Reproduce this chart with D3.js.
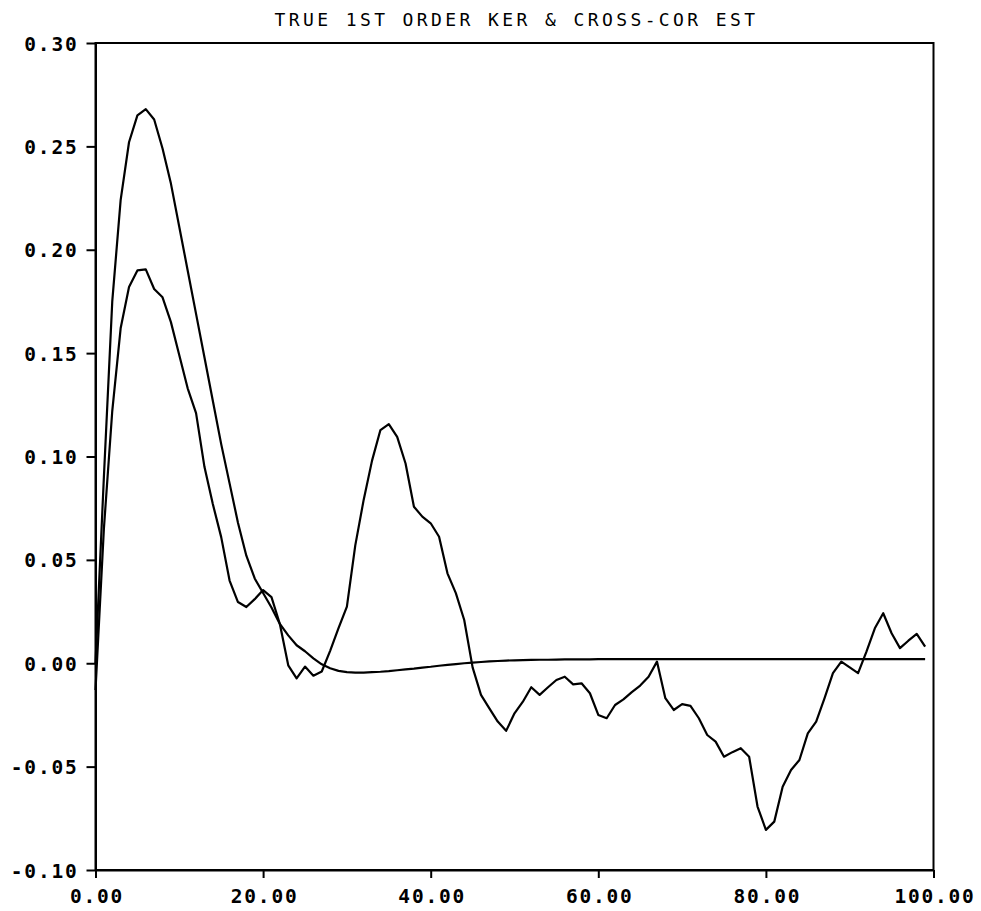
<!DOCTYPE html>
<html>
<head>
<meta charset="utf-8">
<script src="https://cdn.jsdelivr.net/npm/d3@7"></script>
<style>
  body { margin: 0; background: #fff; }
  svg { display: block; }
</style>
</head>
<body>
<script>
const WIDTH = 981;
const HEIGHT = 911;
const MARGIN = { left: 95.5, right: 47.5, top: 43, bottom: 41 };

const TITLE = "TRUE 1ST ORDER KER & CROSS-COR EST";

const X_TICKS = [0, 20, 40, 60, 80, 100];
const X_LABELS = ["0.00", "20.00", "40.00", "60.00", "80.00", "100.00"];
const Y_TICKS = [0.30, 0.25, 0.20, 0.15, 0.10, 0.05, 0.00, -0.05, -0.10];
const Y_LABELS = ["0.30", "0.25", "0.20", "0.15", "0.10", "0.05", "0.00", "-0.05", "-0.10"];

// lags 0..99
const LAGS = d3.range(100);

// true first order kernel
const KERNEL = [
  0, 0.09, 0.175, 0.224, 0.252, 0.265, 0.268, 0.263, 0.249, 0.232,
  0.211, 0.190, 0.169, 0.148, 0.127, 0.106, 0.087, 0.068, 0.052, 0.041,
  0.034, 0.027, 0.019, 0.0135, 0.0087, 0.0058, 0.0024, -0.0005, -0.0024, -0.0037,
  -0.0043, -0.0045, -0.0045, -0.0043, -0.0041, -0.0038, -0.0034, -0.0030, -0.0026, -0.0021,
  -0.0017, -0.0012, -0.0008, -0.0004, 0.0000, 0.0003, 0.0006, 0.0009, 0.0011, 0.0013,
  0.0014, 0.0015, 0.0016, 0.0017, 0.0017, 0.0018, 0.0019, 0.0019, 0.0019, 0.0019,
  0.0020, 0.0020, 0.0020, 0.0020, 0.0020, 0.0020, 0.0020, 0.0020, 0.0020, 0.0020,
  0.0020, 0.0020, 0.0020, 0.0020, 0.0020, 0.0020, 0.0020, 0.0020, 0.0020, 0.0020,
  0.0020, 0.0020, 0.0020, 0.0020, 0.0020, 0.0020, 0.0020, 0.0020, 0.0020, 0.0020,
  0.0020, 0.0020, 0.0020, 0.0020, 0.0020, 0.0020, 0.0020, 0.0020, 0.0020, 0.0020
];

// cross-correlation estimate
const CROSS_COR = [
  -0.013, 0.065, 0.122, 0.162, 0.182, 0.190, 0.1905, 0.181, 0.177, 0.165,
  0.149, 0.133, 0.121, 0.095, 0.077, 0.061, 0.040, 0.0296, 0.0272, 0.031,
  0.0354, 0.032, 0.019, -0.001, -0.0073, -0.0016, -0.006, -0.004, 0.006, 0.017,
  0.0274, 0.057, 0.079, 0.098, 0.1128, 0.1157, 0.1095, 0.0966, 0.0757, 0.0709,
  0.0677, 0.0612, 0.0435, 0.0339, 0.0209, -0.002, -0.0153, -0.0218, -0.0282, -0.0327,
  -0.0242, -0.0186, -0.0116, -0.0153, -0.0116, -0.0081, -0.0065, -0.0102, -0.0097, -0.0145,
  -0.025, -0.0266, -0.0202, -0.0175, -0.014, -0.0108, -0.0065, 0.0008, -0.0169, -0.0226,
  -0.0198, -0.0206, -0.0266, -0.0347, -0.0379, -0.0452, -0.043, -0.0411, -0.0452, -0.0693,
  -0.0806, -0.0766, -0.0597, -0.0516, -0.0468, -0.0339, -0.0282, -0.0169, -0.0048, 0.0008,
  -0.002, -0.0048, 0.0056, 0.0169, 0.0242, 0.0145, 0.0073, 0.0109, 0.0142, 0.008
];

const x = d3.scaleLinear([0, 100], [MARGIN.left, WIDTH - MARGIN.right]);
const y = d3.scaleLinear([-0.10, 0.30], [HEIGHT - MARGIN.bottom, MARGIN.top]);

const svg = d3.select('body').append('svg')
    .attr("width", WIDTH)
    .attr("height", HEIGHT)
    .attr("viewBox", [0, 0, WIDTH, HEIGHT]);

const FONT = "'DejaVu Sans Mono', monospace";

// title
svg.append("text")
    .attr("x", (x(0) + x(100)) / 2 + 2)
    .attr("y", 26)
    .attr("text-anchor", "middle")
    .style("font", `18px ${FONT}`)
    .style("letter-spacing", "3.4px")
    .attr("fill", "#000")
    .text(TITLE);

// frame
svg.append("rect")
    .attr("x", x(0))
    .attr("y", y(0.30))
    .attr("width", x(100) - x(0))
    .attr("height", y(-0.10) - y(0.30))
    .attr("fill", "none")
    .attr("stroke", "#000")
    .attr("stroke-width", 2);

// axes
const yAxis = d3.axisLeft(y)
    .tickValues(Y_TICKS)
    .tickFormat((d, i) => Y_LABELS[i])
    .tickSize(9)
    .tickSizeOuter(0)
    .tickPadding(8);

const xAxis = d3.axisBottom(x)
    .tickValues(X_TICKS)
    .tickFormat((d, i) => X_LABELS[i])
    .tickSize(8)
    .tickSizeOuter(0)
    .tickPadding(11);

svg.append("g")
    .attr("transform", `translate(${x(0)},0)`)
    .call(yAxis)
    .call(g => g.select(".domain").attr("stroke-width", 2))
    .call(g => g.selectAll(".tick line").attr("stroke-width", 2))
    .call(g => g.selectAll(".tick text")
      .attr("fill", "#000")
      .attr("dy", "0.36em")
      .style("font", `bold 19.5px ${FONT}`)
      .style("letter-spacing", "1.8px"));

svg.append("g")
    .attr("transform", `translate(0,${y(-0.10)})`)
    .call(xAxis)
    .call(g => g.select(".domain").attr("stroke-width", 2))
    .call(g => g.selectAll(".tick line").attr("stroke-width", 2))
    .call(g => g.selectAll(".tick text")
      .attr("fill", "#000")
      .attr("dx", "1px")
      .style("font", `bold 19.5px ${FONT}`)
      .style("letter-spacing", "1.8px"));

// curves
const line = d3.line()
    .x((d, i) => x(LAGS[i]))
    .y(d => y(d));

svg.append("g")
    .attr("fill", "none")
    .attr("stroke", "#000")
    .attr("stroke-width", 2.2)
    .attr("stroke-linejoin", "round")
  .selectAll("path")
  .data([KERNEL, CROSS_COR])
  .join("path")
    .attr("d", line);
</script>
</body>
</html>
